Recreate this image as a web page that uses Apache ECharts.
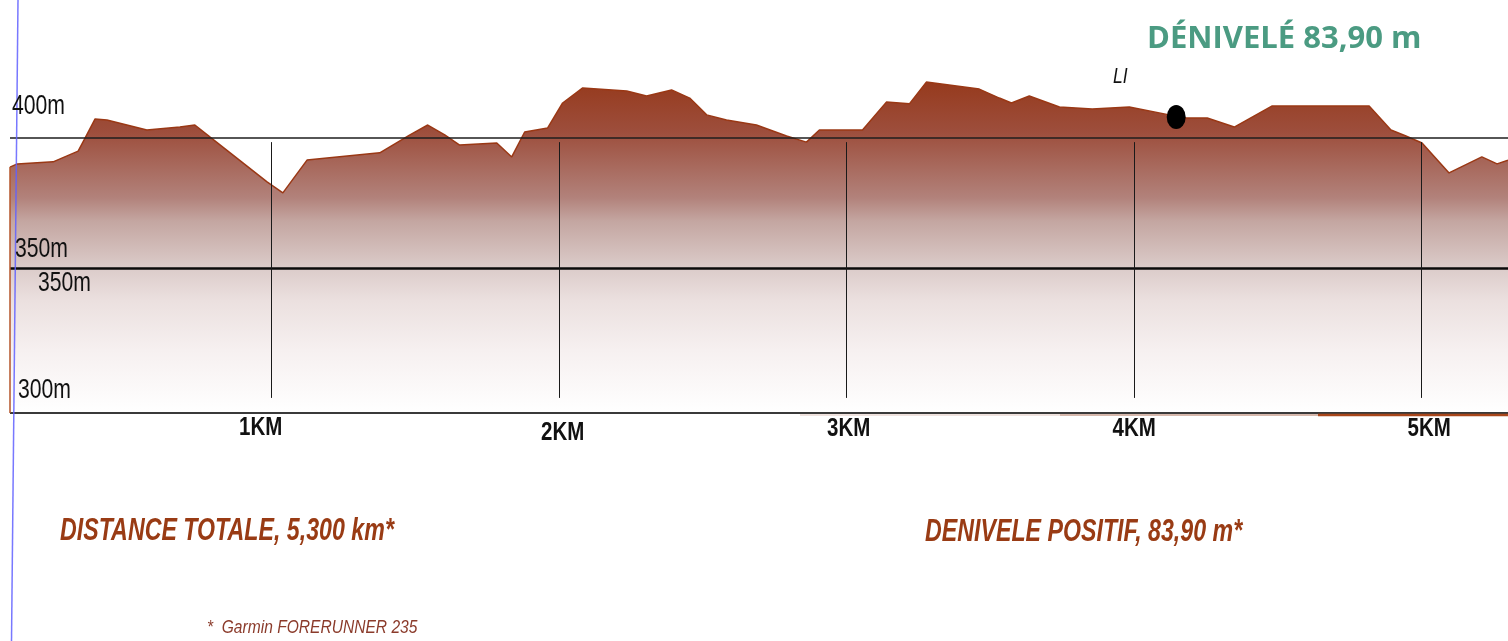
<!DOCTYPE html>
<html>
<head>
<meta charset="utf-8">
<script src="https://cdn.jsdelivr.net/npm/echarts@6/dist/echarts.min.js"></script>
<style>
html,body{margin:0;padding:0;background:#fff;}
#c{width:1508px;height:641px;}
</style>
</head>
<body>
<div id="c"></div>
<script>
// ---- data ----
const distanceKm = [0.090,0.115,0.240,0.327,0.351,0.386,0.427,0.566,0.681,0.733,0.785,0.984,1.039,1.123,1.376,1.481,1.543,1.602,1.654,1.783,1.835,1.880,1.960,2.012,2.082,2.235,2.304,2.391,2.454,2.513,2.582,2.686,2.791,2.860,2.905,3.055,3.138,3.218,3.277,3.461,3.531,3.573,3.635,3.740,3.854,3.983,4.122,4.181,4.254,4.348,4.480,4.817,4.893,4.945,5.001,5.095,5.209,5.262,5.300];
const elevationM = [384.8,385.9,386.6,390.3,394.8,401.4,401.0,397.6,398.6,399.3,395.2,379.7,375.9,387.2,389.7,395.9,399.3,395.9,392.4,393.1,388.3,396.9,398.3,406.9,412.1,411.0,409.3,411.4,408.6,402.8,401.0,399.3,395.5,393.4,397.6,397.6,407.2,406.6,414.1,411.7,408.6,406.9,409.3,405.5,404.8,405.5,402.8,401.7,401.7,398.6,405.9,405.9,397.6,395.5,393.1,382.8,388.3,385.9,387.2];
const xTickValues = [1,2,3,4,5];
const xTickLabels = ['1KM','2KM','3KM','4KM','5KM'];
const yTickValues = [400,350,300];
const yTickLabels = ['400m','350m','300m'];
const refLevels = [395, 350, 300];
const markerKm = [4.146];
const markerElev = [402.1];
const titleText = 'DÉNIVELÉ 83,90 m';
const distanceText = 'DISTANCE TOTALE, 5,300 km*';
const gainText = 'DENIVELE POSITIF, 83,90 m*';
const noteText = '*  Garmin FORERUNNER 235';

// ---- layout / style (pixel offsets of labels relative to their ticks) ----
const FONT = '"Liberation Sans", Arial, sans-serif';
const xLabelDx = [-11, 3.5, 2, 0, 7.5];
const xLabelDy = [15, 19.5, 15.5, 15.5, 15.5];
const yLabelX = [12, 15, 18];
const yLabelDy = [-17, -19, -23];

const profile = distanceKm.map((d, i) => [d, elevationM[i]]);
const d0 = distanceKm[0], e0 = elevationM[0];
const dEnd = distanceKm[distanceKm.length - 1];

const mlData = [];
const refStyles = [
  {color:'#1e1e1e', width:1.5},
  {color:'#0a0a0a', width:2.5},
  {color:'#3a3a3a', width:2}
];
refLevels.forEach((lv, i) => {
  mlData.push([{coord:[d0, lv], lineStyle:{color:refStyles[i].color, width:refStyles[i].width, type:'solid'}}, {coord:[dEnd, lv]}]);
});
xTickValues.forEach(k => {
  mlData.push([{coord:[k, 393.4], lineStyle:{color:'#1a1a1a', width:1, type:'solid'}}, {coord:[k, 305.2]}]);
});
mlData.push([{coord:[d0, 300], lineStyle:{color:'#b4552a', width:1.5, type:'solid'}}, {coord:[d0, e0]}]);

const chart = echarts.init(document.getElementById('c'), null, {renderer:'canvas'});
chart.setOption({
  animation:false,
  backgroundColor:'#ffffff',
  grid:{left:10, right:-1, top:7, bottom:228},
  xAxis:{
    type:'value', min:d0, max:dEnd,
    axisLine:{show:false}, axisTick:{show:false}, splitLine:{show:false}, axisLabel:{show:false}
  },
  yAxis:{
    type:'value', min:300, max:440,
    axisLine:{show:false}, axisTick:{show:false}, splitLine:{show:false}, axisLabel:{show:false}
  },
  series:[
    {
      type:'line', data:profile, symbol:'none', smooth:false,
      lineStyle:{color:'#9a3815', width:1.5},
      areaStyle:{
        origin:'start', opacity:1,
        color:{type:'linear', x:0, y:0, x2:0, y2:1, colorStops:[
          {offset:0, color:'#963a1d'},
          {offset:0.15, color:'#9d4e3c'},
          {offset:0.35, color:'#b2827b'},
          {offset:0.42, color:'#c4a6a1'},
          {offset:0.56, color:'#dbcbc9'},
          {offset:0.66, color:'#ebe0df'},
          {offset:0.81, color:'#f6f0f0'},
          {offset:1, color:'#ffffff'}
        ]}
      },
      markLine:{silent:true, symbol:['none','none'], label:{show:false}, data:mlData},
      z:2
    },
    {
      type:'scatter', data:markerKm.map((k,i)=>[k, markerElev[i]]),
      symbol:'circle', symbolSize:[19,24],
      itemStyle:{color:'#000000', opacity:1}, z:5
    }
  ]
});

function txt(text, x, y, font, fill, scaleX, align, scaleY) {
  return {type:'text', x:x, y:y, scaleX:scaleX, scaleY:scaleY || 1, z:100,
    style:{text:text, x:0, y:0, font:font, fill:fill, align:align || 'left', verticalAlign:'middle'}};
}

const g = [];
g.push({type:'line', z:100, shape:{x1:18, y1:0, x2:11.5, y2:641}, style:{stroke:'#6060ff', lineWidth:1.5, opacity:0.85}});
g.push({type:'line', z:50, shape:{x1:800, y1:415, x2:1060, y2:415}, style:{stroke:'#ead8d3', lineWidth:1.5}});
g.push({type:'line', z:50, shape:{x1:1060, y1:415, x2:1318, y2:415}, style:{stroke:'#c9a090', lineWidth:1.5}});
g.push({type:'line', z:50, shape:{x1:1318, y1:415, x2:1508, y2:415}, style:{stroke:'#a8461a', lineWidth:2.5}});

xTickValues.forEach((k, i) => {
  const p = chart.convertToPixel({gridIndex:0}, [k, 300]);
  g.push(txt(xTickLabels[i], p[0] + xLabelDx[i], p[1] + xLabelDy[i], 'bold 25px ' + FONT, '#111', 0.82, 'center', 1.05));
});
yTickValues.forEach((v, i) => {
  const p = chart.convertToPixel({gridIndex:0}, [d0, v]);
  g.push(txt(yTickLabels[i], yLabelX[i], p[1] + yLabelDy[i], '26px ' + FONT, '#111', 0.815, 'left', 1.05));
});
{
  const p = chart.convertToPixel({gridIndex:0}, [d0, 350]);
  g.push(txt(yTickLabels[1], 38, p[1] + 15, '26px ' + FONT, '#111', 0.815, 'left', 1.05));
}
g.push(txt(titleText, 1147, 39, 'bold 31px "Open Sans", "Noto Sans", sans-serif', '#4b9b82', 1, 'left'));
g.push(txt('LI', 1113, 77, 'italic 22px ' + FONT, '#111', 0.8, 'left'));
g.push(txt(distanceText, 60, 532, 'italic bold 29px ' + FONT, '#993b14', 0.8, 'left', 1.05));
g.push(txt(gainText, 925, 533, 'italic bold 29px ' + FONT, '#993b14', 0.8, 'left', 1.05));
g.push(txt(noteText, 207, 628, 'italic 19px ' + FONT, '#8b3b2b', 0.82, 'left'));

chart.setOption({graphic:g});
</script>
</body>
</html>
